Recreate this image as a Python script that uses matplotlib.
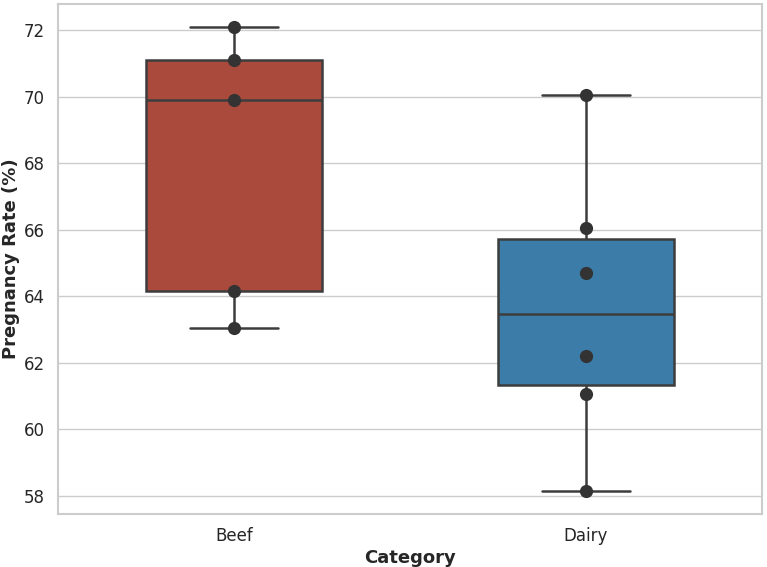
import numpy as np
import pandas as pd
import seaborn as sns
from matplotlib import pyplot as plt

# pregnancy rates
categories = ["Beef", "Dairy"]
beef_rates = [72.1, 71.1, 69.9, 64.15, 63.05]
dairy_rates = [70.05, 66.05, 64.7, 62.2, 61.05, 58.15]
box_colors = ["#a94a3d", "#3b7ca8"]

df = pd.DataFrame({
    "Category": ["Beef"] * len(beef_rates) + ["Dairy"] * len(dairy_rates),
    "Pregnancy Rate (%)": beef_rates + dairy_rates,
})

sns.set_theme(style="whitegrid")
plt.rcParams['font.family'] = ['DejaVu Sans']

fig, ax = plt.subplots(figsize=(7.67, 5.67), dpi=100)
sns.boxplot(data=df, x="Category", y="Pregnancy Rate (%)", hue="Category",
            order=categories, palette=box_colors, saturation=1, width=0.5,
            linewidth=1.8, linecolor="#3d3d3d", legend=False, ax=ax)
sns.stripplot(data=df, x="Category", y="Pregnancy Rate (%)", order=categories,
              color="#333333", size=9.5, jitter=False, ax=ax)

ax.set_xlabel("Category", fontsize=13, fontweight="bold", labelpad=3)
ax.set_ylabel("Pregnancy Rate (%)", fontsize=13, fontweight="bold", labelpad=3)
ax.tick_params(labelsize=12)
for s in ax.spines.values():
    s.set_color("#cccccc")
    s.set_linewidth(1.5)

fig.subplots_adjust(left=0.076, right=0.993, top=0.993, bottom=0.094)
plt.savefig("out.png")
